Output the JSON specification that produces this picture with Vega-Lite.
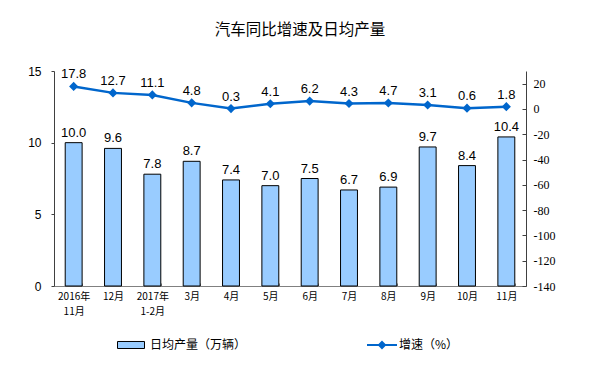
{
  "$schema": "https://vega.github.io/schema/vega-lite/v6.json",
  "width": 472,
  "height": 215,
  "autosize": {"type": "none"},
  "padding": {"left": 54, "top": 71, "right": 81, "bottom": 89},
  "background": "white",
  "title": {
    "text": "汽车同比增速及日均产量",
    "font": "Noto Sans CJK SC",
    "fontSize": 15.5,
    "fontWeight": "normal",
    "color": "#000000",
    "anchor": "middle",
    "dx": 10,
    "offset": 27
  },
  "config": {
    "view": {"stroke": null},
    "axis": {"labelFont": "Liberation Sans", "labelColor": "#000000", "grid": false}
  },
  "data": {
    "values": [
      {"month": "2016年\n11月", "prod": 10.0, "growth": 17.8, "pl": "10.0", "gl": "17.8"},
      {"month": "12月", "prod": 9.6, "growth": 12.7, "pl": "9.6", "gl": "12.7"},
      {"month": "2017年\n1-2月", "prod": 7.8, "growth": 11.1, "pl": "7.8", "gl": "11.1"},
      {"month": "3月", "prod": 8.7, "growth": 4.8, "pl": "8.7", "gl": "4.8"},
      {"month": "4月", "prod": 7.4, "growth": 0.3, "pl": "7.4", "gl": "0.3"},
      {"month": "5月", "prod": 7.0, "growth": 4.1, "pl": "7.0", "gl": "4.1"},
      {"month": "6月", "prod": 7.5, "growth": 6.2, "pl": "7.5", "gl": "6.2"},
      {"month": "7月", "prod": 6.7, "growth": 4.3, "pl": "6.7", "gl": "4.3"},
      {"month": "8月", "prod": 6.9, "growth": 4.7, "pl": "6.9", "gl": "4.7"},
      {"month": "9月", "prod": 9.7, "growth": 3.1, "pl": "9.7", "gl": "3.1"},
      {"month": "10月", "prod": 8.4, "growth": 0.6, "pl": "8.4", "gl": "0.6"},
      {"month": "11月", "prod": 10.4, "growth": 1.8, "pl": "10.4", "gl": "1.8"}
    ]
  },
  "encoding": {
    "x": {
      "field": "month",
      "type": "nominal",
      "sort": null,
      "scale": {"paddingInner": 0.57, "paddingOuter": 0.285},
      "axis": {
        "title": null,
        "labelAngle": 0,
        "labelExpr": "split(datum.label, '\\n')",
        "labelFont": "Noto Sans CJK SC",
        "labelFontSize": 10,
        "labelLineHeight": 15,
        "labelPadding": 8,
        "tickBand": "extent",
        "tickSize": -3,
        "tickColor": "#808080",
        "domainColor": "#808080",
        "labelBaseline": "top"
      }
    }
  },
  "layer": [
    {
      "mark": {"type": "bar", "fill": "#99CCFF", "stroke": "#000000", "strokeWidth": 1},
      "encoding": {
        "y": {
          "field": "prod",
          "type": "quantitative",
          "scale": {"domain": [0, 15], "nice": false},
          "axis": {
            "title": null,
            "orient": "left",
            "values": [0, 5, 10, 15],
            "labelFontSize": 12,
            "labelPadding": 10,
            "tickSize": 3,
            "tickColor": "#404040",
            "domainColor": "#404040"
          }
        },
        "fill": {
          "datum": "日均产量（万辆）",
          "scale": {"range": ["#99CCFF"]},
          "legend": {
            "orient": "none",
            "legendX": 63,
            "legendY": 260,
            "padding": 0,
            "title": null,
            "symbolType": "M-1,-0.26H1V0.26H-1Z",
            "symbolSize": 729,
            "symbolStrokeColor": "#000000",
            "symbolStrokeWidth": 1,
            "labelFont": "Noto Sans CJK SC",
            "labelFontSize": 12,
            "labelColor": "#000000",
            "labelOffset": 5
          }
        }
      }
    },
    {
      "mark": {"type": "text", "baseline": "bottom", "dy": -3, "fontSize": 13, "font": "Liberation Sans", "color": "#000000"},
      "encoding": {
        "y": {"field": "prod", "type": "quantitative", "scale": {"domain": [0, 15], "nice": false}, "axis": null},
        "text": {"field": "pl"}
      }
    },
    {
      "mark": {"type": "line", "color": "#0066CC", "strokeWidth": 2.5, "point": {"shape": "diamond", "size": 40, "filled": true, "color": "#0066CC"}},
      "encoding": {
        "y": {
          "field": "growth",
          "type": "quantitative",
          "scale": {"domain": [-140, 30], "nice": false},
          "axis": {
            "title": null,
            "orient": "right",
            "values": [-140, -120, -100, -80, -60, -40, -20, 0, 20],
            "labelExpr": "toString(datum.value)",
            "labelFont": "Liberation Serif",
            "labelFontSize": 12,
            "labelPadding": 11,
            "tickSize": -4,
            "tickColor": "#404040",
            "domainColor": "#404040"
          }
        },
        "stroke": {
          "datum": "增速（%）",
          "scale": {"range": ["#0066CC"]},
          "legend": {
            "orient": "none",
            "legendX": 312,
            "legendY": 258,
            "padding": 0,
            "title": null,
            "symbolType": "M-1,0H1M0,-0.2L0.2,0L0,0.2L-0.2,0Z",
            "symbolSize": 900,
            "symbolStrokeWidth": 2,
            "symbolFillColor": "#0066CC",
            "labelFont": "Noto Sans CJK SC",
            "labelFontSize": 12,
            "labelColor": "#000000",
            "labelOffset": 1
          }
        }
      }
    },
    {
      "mark": {"type": "text", "baseline": "bottom", "dy": -5, "fontSize": 13, "font": "Liberation Sans", "color": "#000000"},
      "encoding": {
        "y": {"field": "growth", "type": "quantitative", "scale": {"domain": [-140, 30], "nice": false}, "axis": null},
        "text": {"field": "gl"}
      }
    }
  ],
  "resolve": {"scale": {"y": "independent", "fill": "independent", "stroke": "independent"}}
}
